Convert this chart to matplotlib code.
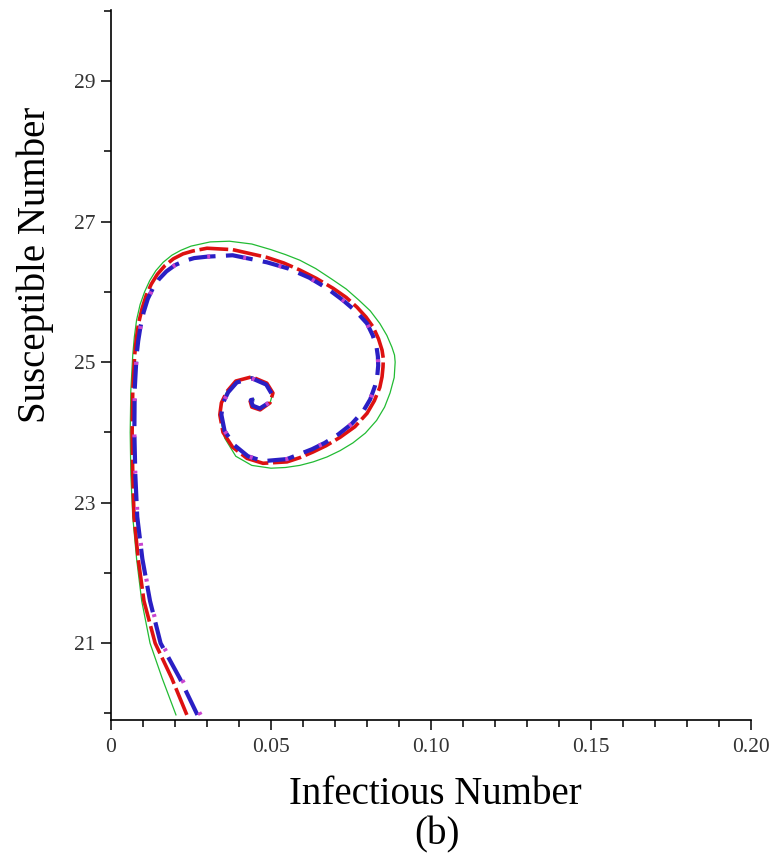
import numpy as np
import matplotlib
matplotlib.use('Agg')
import matplotlib.pyplot as plt
from matplotlib.ticker import MultipleLocator, FixedLocator

# Trayectorias (I, S) del modelo para los distintos esquemas
green_x = [0.0203, 0.0160, 0.0122, 0.0096, 0.0080, 0.0068, 0.0062, 0.0060, 0.0062, 0.0068,
           0.0073, 0.0080, 0.0091, 0.0105, 0.0121, 0.0140, 0.0163, 0.0190, 0.0218, 0.0250,
           0.0310, 0.0370, 0.0440, 0.0500, 0.0545, 0.0590, 0.0640, 0.0690, 0.0735, 0.0775,
           0.0810, 0.0840, 0.0862, 0.0878, 0.0886, 0.0888, 0.0885, 0.0872, 0.0855, 0.0830,
           0.0795, 0.0756, 0.0716, 0.0675, 0.0632, 0.0590, 0.0545, 0.0500, 0.0440, 0.0390,
           0.0355, 0.0342, 0.0345, 0.0362, 0.0390, 0.0440, 0.0487, 0.0506, 0.0497, 0.0466,
           0.0440, 0.0434, 0.0447]
green_y = [19.98, 20.50, 21.00, 21.60, 22.20, 22.80, 23.40, 24.00, 24.60, 25.10,
           25.36, 25.60, 25.82, 26.00, 26.16, 26.30, 26.42, 26.52, 26.59, 26.65,
           26.71, 26.72, 26.68, 26.60, 26.53, 26.45, 26.33, 26.18, 26.04, 25.88,
           25.73, 25.55, 25.38, 25.21, 25.10, 25.00, 24.78, 24.56, 24.36, 24.17,
           23.99, 23.85, 23.74, 23.65, 23.58, 23.53, 23.50, 23.49, 23.53, 23.66,
           23.92, 24.20, 24.42, 24.58, 24.73, 24.79, 24.70, 24.56, 24.42, 24.32,
           24.36, 24.46, 24.47]

red_x = [0.0237, 0.0190, 0.0138, 0.0103, 0.0085, 0.0072, 0.0068, 0.0066, 0.0068, 0.0074,
         0.0079, 0.0086, 0.0097, 0.0110, 0.0126, 0.0145, 0.0168, 0.0195, 0.0225, 0.0255,
         0.0300, 0.0380, 0.0487, 0.0540, 0.0590, 0.0642, 0.0694, 0.0735, 0.0769, 0.0797,
         0.0819, 0.0836, 0.0847, 0.0851, 0.0850, 0.0847, 0.0840, 0.0823, 0.0800, 0.0762,
         0.0716, 0.0672, 0.0631, 0.0590, 0.0550, 0.0475, 0.0425, 0.0380, 0.0350, 0.0340,
         0.0345, 0.0362, 0.0390, 0.0440, 0.0487, 0.0506, 0.0497, 0.0466, 0.0440, 0.0434,
         0.0447]
red_y = [19.98, 20.50, 21.00, 21.60, 22.20, 22.80, 23.40, 24.00, 24.60, 25.10,
         25.33, 25.55, 25.76, 25.95, 26.11, 26.25, 26.37, 26.47, 26.54, 26.58,
         26.62, 26.60, 26.49, 26.41, 26.31, 26.19, 26.05, 25.92, 25.78, 25.64,
         25.50, 25.33, 25.17, 25.05, 24.93, 24.79, 24.64, 24.45, 24.27, 24.08,
         23.93, 23.81, 23.72, 23.64, 23.58, 23.56, 23.63, 23.79, 24.00, 24.25,
         24.42, 24.58, 24.73, 24.79, 24.70, 24.56, 24.42, 24.32, 24.36, 24.46,
         24.47]

blue_x = [0.0270, 0.0215, 0.0155, 0.0122, 0.0098, 0.0082, 0.0076, 0.0073, 0.0074, 0.0080,
          0.0085, 0.0092, 0.0102, 0.0115, 0.0131, 0.0150, 0.0173, 0.0200, 0.0230, 0.0260,
          0.0300, 0.0380, 0.0487, 0.0555, 0.0620, 0.0675, 0.0725, 0.0766, 0.0800, 0.0818,
          0.0830, 0.0834, 0.0835, 0.0832, 0.0825, 0.0810, 0.0788, 0.0752, 0.0710, 0.0668,
          0.0628, 0.0550, 0.0475, 0.0428, 0.0385, 0.0355, 0.0345, 0.0350, 0.0366, 0.0393,
          0.0440, 0.0485, 0.0502, 0.0493, 0.0465, 0.0443, 0.0437, 0.0448]
blue_y = [19.98, 20.50, 21.00, 21.60, 22.20, 22.80, 23.40, 24.00, 24.60, 25.10,
          25.30, 25.50, 25.71, 25.90, 26.05, 26.18, 26.29, 26.38, 26.44, 26.48,
          26.50, 26.52, 26.42, 26.33, 26.20, 26.05, 25.88, 25.72, 25.55, 25.38,
          25.21, 25.08, 24.95, 24.80, 24.66, 24.47, 24.30, 24.12, 23.97, 23.85,
          23.76, 23.62, 23.59, 23.66, 23.82, 24.02, 24.25, 24.42, 24.57, 24.71,
          24.77, 24.68, 24.55, 24.42, 24.34, 24.38, 24.46, 24.47]

magenta_x = [0.0280, 0.0220, 0.0158, 0.0123, 0.0099, 0.0083, 0.0076, 0.0073, 0.0074, 0.0080,
             0.0085, 0.0092, 0.0102, 0.0115, 0.0131, 0.0150, 0.0173, 0.0200, 0.0230, 0.0260,
             0.0300, 0.0380, 0.0487, 0.0555, 0.0620, 0.0675, 0.0725, 0.0766, 0.0800, 0.0818,
             0.0830, 0.0834, 0.0835, 0.0832, 0.0825, 0.0810, 0.0788, 0.0752, 0.0710, 0.0668,
             0.0628, 0.0550, 0.0475, 0.0428, 0.0385, 0.0355, 0.0345, 0.0350, 0.0366, 0.0393,
             0.0440, 0.0485, 0.0502, 0.0493, 0.0465, 0.0443, 0.0437, 0.0448]
magenta_y = [19.98, 20.50, 21.00, 21.60, 22.20, 22.80, 23.40, 24.00, 24.60, 25.10,
             25.30, 25.50, 25.71, 25.90, 26.05, 26.18, 26.29, 26.38, 26.44, 26.48,
             26.50, 26.52, 26.42, 26.33, 26.20, 26.05, 25.88, 25.72, 25.55, 25.38,
             25.21, 25.08, 24.95, 24.80, 24.66, 24.47, 24.30, 24.12, 23.97, 23.85,
             23.76, 23.62, 23.59, 23.66, 23.82, 24.02, 24.25, 24.42, 24.57, 24.71,
             24.77, 24.68, 24.55, 24.42, 24.34, 24.38, 24.46, 24.47]

x_ticks = [0, 0.05, 0.10, 0.15, 0.20]
x_labels = ['0', '0.05', '0.10', '0.15', '0.20']
y_ticks = [21, 23, 25, 27, 29]

plt.rcParams['font.family'] = ['Liberation Serif', 'DejaVu Serif']

fig = plt.figure(figsize=(7.81, 8.65), dpi=100)
ax = fig.add_axes([111 / 781, 145 / 865, 640 / 781, 710 / 865])

ax.plot(green_x, green_y, color='#22bb33', lw=0.9, zorder=2)
ax.plot(red_x, red_y, color='#dd1111', lw=2.6, dashes=(8, 1.3), zorder=3)
ax.plot(blue_x, blue_y, color='#2a1fc4', lw=3.0, dashes=(6.5, 2.5), zorder=4)
ax.plot(magenta_x, magenta_y, color='#c844d0', lw=3.0, dashes=(0.7, 8), zorder=5)

ax.set_xlim(0, 0.20)
ax.set_ylim(19.907, 30.01)

ax.spines['top'].set_visible(False)
ax.spines['right'].set_visible(False)
ax.spines['left'].set_linewidth(1.2)
ax.spines['bottom'].set_linewidth(1.2)

ax.xaxis.set_major_locator(FixedLocator(x_ticks))
ax.set_xticklabels(x_labels)
ax.xaxis.set_minor_locator(MultipleLocator(0.01))
ax.yaxis.set_major_locator(FixedLocator(y_ticks))
ax.yaxis.set_minor_locator(MultipleLocator(1))

ax.tick_params(which='major', direction='out', length=7, width=1.1, labelsize=15.5,
               colors='black')
ax.tick_params(which='minor', direction='out', length=5, width=1.1)
ax.tick_params(axis='x', pad=6)
ax.tick_params(axis='y', pad=4)
for lab in ax.get_xticklabels() + ax.get_yticklabels():
    lab.set_color('#333333')

fig.text(435 / 781, 1 - 795 / 865, 'Infectious Number', fontsize=28, ha='center', va='center')
fig.text(437 / 781, 1 - 835 / 865, '(b)', fontsize=28, ha='center', va='center')
fig.text(35 / 781, 1 - 265 / 865, 'Susceptible Number', fontsize=28, ha='center', va='center',
         rotation=90)

fig.savefig('out.png', dpi=100)
